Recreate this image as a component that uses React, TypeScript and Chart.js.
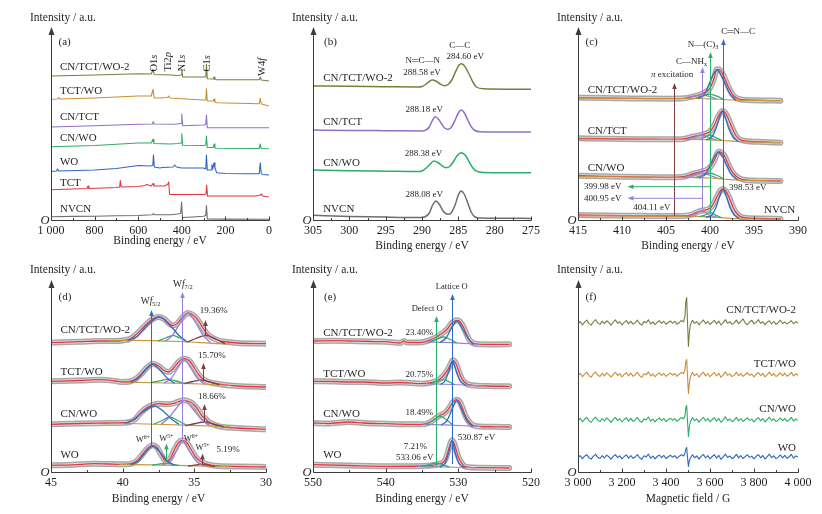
import React, { useEffect, useRef } from "react";
import { Chart, registerables } from "chart.js";

Chart.register(...registerables);

const FONT = '"Liberation Serif", "Times New Roman", "DejaVu Serif", serif';
const INK = "#1f1f1f";
const AXIS = "#3c3c3c";
const OLIVE = "#7b7e3b";
const ORANGE = "#c78e34";
const PURPLE = "#8d6fc8";
const GREEN = "#2cad68";
const BLUE = "#2e67c3";
const RED = "#e4363d";
const GRAY = "#6e6e6e";
const FIT_RED = "#e8363f";
const FIT_BLUE = "#2f6cc6";
const FIT_GREEN = "#2bb06b";
const FIT_PURPLE = "#9c80d6";
const FIT_BROWN = "#7c3e40";
const FIT_TAN = "#c99540";
const BAND = "#a8a8a8";
const BAND_IN = "#e0e0e0";

// ---------- (a) survey spectra [binding energy, intensity] ----------
const surveyNVCN = [[1000,3.3],[900,3.6],[800,3.8],[700,4.2],[600,4.5],[560,5],[535,5.2],[530,6.5],[525,5.2],[450,5.3],[420,6],[405,6.5],[401,18],[397,2.5],[350,3],[300,3.7],[290,4.5],[287,14.5],[283,1.1],[200,0.9],[0,0.8]];
const surveyTCT = [[1000,30.3],[900,31],[835,31.5],[830,34],[826,31.5],[700,32.5],[685,33],[682,39.5],[678,33],[600,33.5],[570,34.5],[560,35.5],[540,34],[532,36.5],[528,34],[480,34],[465,35.5],[460,38],[456,25.5],[400,25.5],[300,25.5],[289,26],[286,35],[282,24],[200,24],[60,24],[40,25],[35,26],[30,24],[0,23]];
const surveyWO = [[1000,48.5],[975,49],[970,51],[965,49],[800,50],[700,51.5],[600,54.5],[545,54],[533,54.5],[530,65],[526,53],[500,52],[490,52.5],[440,53],[432,55],[425,53],[400,52],[300,52],[290,51],[287,65],[283,50],[265,50],[262,55.5],[258,51],[252,57.3],[248,52],[240,47.3],[200,46.5],[100,46.3],[45,46.3],[40,57.3],[36,47],[30,45.5],[0,45]];
const surveyCNWO = [[1000,73.3],[800,74.5],[600,77],[540,77],[532,80.7],[528,76.5],[450,76],[420,76.5],[403,77],[400,86.3],[396,74.7],[300,74.5],[290,75],[287,84],[283,72.5],[255,72.5],[252,76],[248,72],[240,71.7],[45,71.5],[40,76],[36,71.5],[0,71.2]];
const surveyCNTCT = [[1000,93],[800,94.3],[600,95.7],[535,96],[531,98.3],[527,96],[430,95.7],[403,96.5],[400,106],[396,94.3],[300,95],[290,95.5],[287,105],[283,92.3],[200,92.3],[0,92.2]];
const surveyTCTWO = [[1000,120.7],[970,121],[965,122.5],[960,121],[800,122],[600,124],[540,124],[532,130.7],[527,122],[500,122],[465,122.5],[460,124],[455,122],[420,121.5],[300,120],[290,120],[287,131.3],[283,119],[255,119],[252,121],[248,118],[240,117.3],[45,116.3],[40,121.7],[35,116],[0,114]];
const surveyCNTCTWO2 = [[1000,144],[800,145],[600,146.3],[540,146],[532,150.7],[527,145.5],[450,145],[420,144.5],[403,145],[400,150.7],[396,143],[300,143],[290,143],[287,155.7],[283,141.3],[255,141],[252,143],[248,140.5],[240,140.3],[45,140.3],[40,143],[35,140],[0,139]];

// ---------- (b) C1s ----------
const c1sNVCN = [[305,4.7],[300,3.6],[295,2.9],[290,2.5],[289.5,3.5],[289.0,7],[288.5,15.5],[288.08,19],[287.6,15.5],[287.1,9],[286.6,6],[286.3,5.7],[285.9,8],[285.4,16],[285.0,25],[284.6,29],[284.2,26],[283.7,17],[283.2,7.5],[282.7,3],[282,1.9],[279,1.7],[275,1.6]];
const c1sCNWO = [[305,50],[300,49.3],[295,48.8],[290.5,48.4],[290,49],[289.5,51.5],[289,55],[288.38,59],[287.8,57.5],[287.2,54],[286.7,52.3],[286.2,53.5],[285.7,58],[285.2,64],[284.6,67.3],[284,64.5],[283.5,58],[283,52],[282.5,48.8],[281.5,47.6],[278,47.3],[275,47.2]];
const c1sCNTCT = [[305,90],[300,89.6],[295,89.3],[290,89],[289.5,89.8],[289,93],[288.6,99],[288.18,103.3],[287.7,100.5],[287.2,95],[286.8,91.5],[286.4,90.7],[286,92.5],[285.5,99],[285.0,107],[284.6,110],[284.2,107.5],[283.7,100],[283.2,93],[282.7,89.5],[282,88.3],[278,88],[275,88]];
const c1sCNTCTWO2 = [[305,134],[300,133.7],[295,133.3],[290.5,133],[290,133.5],[289.5,135.5],[289,138.5],[288.58,140],[288.1,139],[287.5,136],[286.9,134.2],[286.4,135.5],[285.9,140],[285.4,148],[284.9,155],[284.6,156.3],[284.2,154.5],[283.6,147],[283,138],[282.5,133],[281.5,131.2],[278,130.8],[275,130.7]];

// ---------- (c) N1s: envelope, background, C=N-C, N-(C)3, C-NHx ----------
const n1sNVCN = [[415,5],[412,4.6],[410,4.3],[407,4.1],[405,4],[403,4.1],[402,5.7],[401.3,8.5],[400.8,9.5],[400.3,10.5],[399.9,12.5],[399.5,18],[399.1,25],[398.8,29.5],[398.55,31],[398.2,29],[397.8,22],[397.4,13],[397,7],[396.5,3.3],[395.8,2],[394,1.5],[392,1]];
const n1sNVCNbg = [[415,4.2],[402,3.6],[400,3.2],[398.5,2.2],[397,1.3],[392,0.8]];
const n1sNVCNcnc = [[400.4,2.8],[399.8,5],[399.3,13],[398.9,24],[398.53,30.5],[398.15,24],[397.75,13],[397.25,5],[396.7,1.8]];
const n1sNVCNnc3 = [[401.2,3.4],[400.6,4.9],[399.98,7.3],[399.35,4.8],[398.7,2.5]];
const n1sNVCNnh = [[402.6,3.6],[401.8,5.4],[400.95,9],[400.1,5.2],[399.3,3.0]];

const n1sCNWO = [[415,44.3],[412,43.7],[410,43.3],[407,42.9],[405,42.7],[403,43.3],[402,46],[401,48.3],[400.3,50.5],[399.8,55],[399.4,62],[399.05,68.3],[398.7,67.5],[398.3,63.3],[397.8,53.3],[397.3,46],[396.7,41.8],[396,40],[394,39.3],[392,39]];
const n1sCNWObg = [[415,43.5],[402,42.5],[400,42],[398.5,41],[397,40],[392,39]];
const n1sCNWOcnc = [[401.2,42.3],[400.5,46],[399.9,56],[399.45,64],[399.05,67.5],[398.6,64],[398.1,55],[397.6,46],[396.9,40.5]];
const n1sCNWOnc3 = [[401.6,42.7],[400.8,44.8],[400,47],[399.2,44.5],[398.5,41.3]];
const n1sCNWOnh = [[402.8,43],[401.9,44.9],[400.95,47.2],[400,44.6],[399.2,42]];

const n1sCNTCT = [[415,81.7],[412,81.3],[410,81],[407,80.8],[405,80.7],[403,81],[402,83.3],[401,85],[400.3,87],[399.9,89.5],[399.5,95],[399.1,103],[398.8,107.5],[398.6,109],[398.3,107.5],[397.9,101],[397.5,92.5],[397.1,85],[396.6,80.5],[396,79],[394,78],[392,77.3]];
const n1sCNTCTbg = [[415,80.8],[402,80.5],[400,80.2],[398.5,79.5],[397,78.5],[392,77.3]];
const n1sCNTCTcnc = [[400.4,80.2],[399.8,83],[399.3,92],[398.95,102],[398.6,108.5],[398.25,102],[397.85,91],[397.35,82.5],[396.8,78.6]];
const n1sCNTCTnc3 = [[401.1,80.6],[400.6,82.5],[399.98,85],[399.35,82.3],[398.7,79.7]];
const n1sCNTCTnh = [[402.6,80.8],[401.8,82.6],[400.95,85],[400.1,82.5],[399.3,80.2]];

const n1sCNTCTWO2 = [[415,122.3],[412,121.9],[410,121.7],[407,121.4],[405,121.3],[403,121.7],[402,123.3],[401,125.7],[400.4,128.5],[400,132],[399.6,140],[399.2,150.7],[398.8,149.5],[398.4,143],[397.9,133],[397.4,125],[396.9,121.5],[396.3,120.3],[395,119.8],[392,119.3]];
const n1sCNTCTWO2bg = [[415,121.8],[402,121.5],[400,121.2],[398.5,120.5],[397,119.8],[392,119.3]];
const n1sCNTCTWO2cnc = [[401.3,121.9],[400.6,126],[400.05,137],[399.6,146],[399.2,150],[398.8,146],[398.3,137],[397.8,127],[397.1,120]];
const n1sCNTCTWO2nc3 = [[401.5,122.2],[400.8,124],[400,125.8],[399.2,123.8],[398.5,120.8]];
const n1sCNTCTWO2nh = [[402.8,122.3],[401.9,123.8],[401,125.2],[400.1,123.6],[399.3,121.4]];

// ---------- (d) W4f: envelope, background, W6+ 5/2, W5+ 5/2, W6+ 7/2, W5+ 7/2 ----------
const w4fWO = [[45,6.7],[43.5,7.2],[42,8.3],[41,8],[40,7.7],[39.5,8],[39,11.5],[38.6,18],[38.2,24.5],[37.9,26.7],[37.6,24.5],[37.3,17],[37.0,11],[36.7,13],[36.4,22],[36.1,29.5],[35.8,31.7],[35.5,29],[35.2,22],[34.9,15],[34.5,10],[34.0,7.3],[33.3,6],[32,5.5],[30,5]];
const w4fWObg = [[40.2,7.6],[37,6.8],[34,5.8],[32.5,5.2]];
const w4fWOa = [[39.4,7.5],[38.9,11],[38.45,19],[37.9,25.7],[37.35,19],[36.9,11],[36.4,7]];
const w4fWOb = [[37.9,7],[37.0,8.6],[36.1,6.6]];
const w4fWOc = [[37.2,6.8],[36.8,10],[36.3,20],[35.8,31],[35.3,20],[34.8,10],[34.4,6.2]];
const w4fWOd = [[35.4,6],[34.5,7.6],[33.6,5.6]];

const w4fCNWO = [[45,47.7],[43,48.5],[41,49],[40,49.3],[39.5,50],[39.1,53],[38.8,58.3],[38.4,63.5],[38,66.7],[37.5,68.3],[37,67.7],[36.5,68.3],[36.1,70.5],[35.7,71.7],[35.3,70],[35,66.7],[34.7,61.5],[34.5,56.7],[34.2,53],[34,50],[33.5,46.7],[33,45],[32,44],[30,42.7]];
const w4fCNWObg = [[41,49],[37,47.5],[34,46],[32.5,45.2]];
const w4fCNWOa = [[39.8,49],[39.2,53],[38.6,60],[37.8,66],[37.1,60],[36.6,53],[36.1,48]];
const w4fCNWOb = [[37.8,48],[37.3,51],[36.7,55],[36.1,51],[35.6,47.3]];
const w4fCNWOc = [[37.3,48],[36.8,54],[36.3,63],[35.7,71.7],[35.1,63],[34.6,54],[34.0,46.5]];
const w4fCNWOd = [[35.6,46.5],[34.9,48.5],[34.3,50],[33.7,48],[33.0,45.5]];

const w4fTCTWO = [[45,90.7],[43,91.5],[41.5,92.3],[40.5,91],[40,90],[39.5,90.5],[39.1,93],[38.7,98],[38.3,104.5],[37.9,108.3],[37.5,106],[37.1,101.5],[36.8,100],[36.5,103],[36.1,110],[35.7,113.3],[35.3,110.5],[35,104],[34.7,97.5],[34.4,93],[34,90],[33.5,88.5],[33,87.3],[32,86],[30,85]];
const w4fTCTWObg = [[40,90],[37,89],[34.5,88],[32.5,86.5]];
const w4fTCTWOa = [[39.4,90],[38.9,94],[38.4,102],[37.9,107.7],[37.4,102],[36.9,94],[36.4,89]];
const w4fTCTWOb = [[38,89.5],[37.4,91.2],[36.9,92.7],[36.3,91],[35.7,88.6]];
const w4fTCTWOc = [[37.1,89],[36.6,94],[36.15,104],[35.7,112.3],[35.25,104],[34.8,94],[34.3,88]];
const w4fTCTWOd = [[35.7,88.5],[35.1,90.5],[34.5,91.8],[33.9,90],[33.3,87.5]];

const w4fCNTCTWO2 = [[45,129.3],[43,130.3],[41.5,131],[40.5,131],[40,131.5],[39.5,133],[39.1,137],[38.6,144],[38.1,151],[37.5,155],[37.1,153],[36.8,149],[36.5,146.5],[36.2,148.5],[35.8,155],[35.45,159],[35.1,157],[34.7,151],[34.4,144],[34.1,138],[33.7,134],[33.3,131.5],[33,130.5],[32,129],[30,128.3]];
const w4fCNTCTWO2bg = [[41,131.5],[39.4,131.7],[36,130.5],[33.2,128.3],[32.5,128]];
const w4fCNTCTWO2a = [[39.6,131.8],[39,135.5],[38.4,145],[37.45,155],[36.6,145],[36.1,137],[35.6,131]];
const w4fCNTCTWO2b = [[37.5,131.2],[37,134],[36.5,136.7],[36,134],[35.5,130.5]];
const w4fCNTCTWO2c = [[37,131],[36.5,137],[36,149],[35.45,159],[34.9,149],[34.4,137],[33.9,129.8]];
const w4fCNTCTWO2d = [[35.5,130],[34.9,133.5],[34.2,136.7],[33.5,133],[32.9,128.7]];

// ---------- (e) O1s: envelope, background, defect O, lattice O ----------
const o1sWO = [[550,7.3],[545,6.5],[540,5.7],[535,6],[533.5,6.7],[532.5,8.5],[532,10],[531.7,14],[531.4,21],[531.1,28.5],[530.87,31.7],[530.6,29],[530.3,22],[530,15],[529.6,9.5],[529.2,6],[528.5,4.7],[527,4.3],[523,4]];
const o1sWObg = [[535.5,5.7],[532,5],[529,4.5],[527.5,4.3]];
const o1sWOdef = [[535,5.9],[534,7.3],[533.06,9],[532.1,7.2],[531.3,5.2]];
const o1sWOlat = [[532.5,5],[531.8,9],[531.3,20],[530.87,31.3],[530.45,20],[529.95,9],[529.2,4.6]];

const o1sCNWO = [[550,49],[548,48.5],[545,50],[543,49],[540,48.3],[537,47.7],[535,47.7],[534.2,48.8],[533.5,51.5],[533,54.3],[532.5,56.7],[532,58.3],[531.5,61.7],[531,67],[530.6,71],[530.2,72.3],[529.8,70],[529.4,63.5],[529,55.7],[528.5,50],[528,46.7],[527,45.5],[525,45.2],[523,45]];
const o1sCNWObg = [[534.6,47.7],[531,46.8],[528,45.8],[527,45.5]];
const o1sCNWOdef = [[534.4,47.8],[533.5,51.5],[532.5,55.7],[531.6,52],[530.8,47.4]];
const o1sCNWOlat = [[532.3,47.2],[531.6,51],[531,60],[530.2,71.7],[529.4,60],[528.8,51],[528.1,46]];

const o1sTCTWO = [[550,90.7],[547,90.5],[545,90],[543,90],[540,89],[538,89.5],[535,88.3],[534,89],[533,91],[532.5,93.3],[532,96.7],[531.5,101.7],[531.1,107.5],[530.75,111.7],[530.4,109.5],[530.1,104],[529.7,96],[529.3,91],[528.8,88],[528,86.7],[526,86],[523,85.7]];
const o1sTCTWObg = [[534.4,88.4],[531,87.5],[528,86.7],[527,86.3]];
const o1sTCTWOdef = [[533.8,88.5],[533,90.5],[532.1,92.3],[531.3,90.3],[530.6,87.6]];
const o1sTCTWOlat = [[532.4,87.8],[531.8,91.5],[531.3,101],[530.8,111],[530.3,101],[529.8,91.5],[529,86.8]];

const o1sCNTCTWO2 = [[550,131],[547,131.3],[545,131],[542,130.5],[540,130.3],[538,129],[537.5,131],[537,129.5],[535,129.7],[534,131.7],[533,135],[532.5,137.5],[532,140],[531.5,143.3],[531,148.3],[530.5,151],[530.2,151.7],[529.8,150.5],[529.3,145],[528.9,138.3],[528.5,132.3],[528,129],[527,127.7],[525,127.6],[523,127.7]];
const o1sCNTCTWO2bg = [[534.6,130],[531,129.3],[528,128],[527,127.7]];
const o1sCNTCTWO2def = [[534,130],[533,132.7],[532,135],[531.1,132.5],[530.3,129.2]];
const o1sCNTCTWO2lat = [[532.5,129.6],[531.7,134],[531,143],[530.2,151],[529.4,143],[528.7,134],[528,128]];

// ---------- (f) EPR ----------
const eprField = [3000,3010,3020,3030,3040,3050,3060,3070,3080,3090,3100,3110,3120,3130,3140,3150,3160,3170,3180,3190,3200,3210,3220,3230,3240,3250,3260,3270,3280,3290,3300,3310,3320,3330,3340,3350,3360,3370,3380,3390,3400,3410,3420,3430,3440,3450,3460,3470,3480,3486,3490,3494,3498,3502,3506,3510,3520,3530,3540,3550,3560,3570,3580,3590,3600,3610,3620,3630,3640,3650,3660,3670,3680,3690,3700,3710,3720,3730,3740,3750,3760,3770,3780,3790,3800,3810,3820,3830,3840,3850,3860,3870,3880,3890,3900,3910,3920,3930,3940,3950,3960,3970,3980,3990,4000];
const eprCNTCTWO2 = [148.2,150.5,147.1,149.8,151.9,148.4,146.9,150.2,152.3,149.1,147.6,150.9,148.3,151.2,149.4,146.8,149.9,152.1,148.7,150.3,147.2,149.6,151.4,148.1,150.7,147.9,149.2,151.8,148.5,146.9,150.4,149.3,152.2,148.0,150.1,147.4,149.7,151.3,148.6,150.8,147.7,149.5,151.0,148.9,150.6,147.8,149.3,151.5,150.2,156,170,174.5,148,125.5,139,146.5,151.8,148.6,150.4,147.2,149.9,152.0,148.3,150.7,147.5,149.8,151.6,148.2,150.9,147.0,149.4,152.4,148.8,150.3,147.6,149.1,151.9,148.4,150.6,153.2,148.9,147.3,150.0,151.7,148.1,149.6,152.3,148.7,150.2,147.4,149.8,151.2,148.0,150.5,147.7,149.3,151.8,148.5,150.1,147.9,149.6,151.3,148.2,150.4,149.0];
const eprTCTWO = [96.4,98.7,95.3,97.9,99.8,96.2,94.9,98.1,100.0,96.8,95.5,98.6,96.1,99.2,97.3,94.8,97.7,99.6,96.5,98.3,95.1,97.6,99.4,96.0,98.8,95.8,97.1,99.7,96.4,94.7,98.3,97.2,100.1,95.9,98.0,95.3,97.6,99.2,96.5,98.7,95.6,97.4,98.9,96.8,98.5,95.7,97.8,99.6,98.4,102,110,112.5,95,78.5,88,94.5,99.6,96.4,98.2,95.0,97.7,99.8,96.1,98.5,95.3,97.6,99.4,96.0,98.7,94.8,97.2,100.2,96.6,98.1,95.4,96.9,99.7,96.2,98.4,95.6,97.5,99.3,96.7,98.0,95.2,97.8,99.5,96.3,98.6,95.1,97.4,99.9,96.5,98.3,95.5,97.0,99.1,96.2,98.8,95.7,97.3,99.6,96.0,98.2,96.8];
const eprCNWO = [51.3,53.6,50.2,52.8,54.6,51.1,49.8,52.9,54.9,51.7,50.4,53.5,51.0,54.1,52.2,49.7,52.6,54.5,51.4,53.2,50.0,52.5,54.3,50.9,53.7,50.7,52.0,54.6,51.3,49.6,53.2,52.1,55.0,50.8,52.9,50.2,52.5,54.1,51.4,53.6,50.5,52.3,53.8,51.7,53.4,50.6,52.7,54.5,53.0,56,64,66.5,50,35.5,45,49.5,54.5,51.3,53.1,49.9,52.6,54.7,51.0,53.4,50.2,52.5,54.3,50.9,53.6,49.7,52.1,55.1,51.5,53.0,50.3,51.8,54.6,51.1,53.3,50.5,52.4,54.2,51.6,52.9,50.1,52.7,54.4,51.2,53.5,50.0,52.3,54.8,51.4,53.2,50.4,51.9,54.0,51.1,53.7,50.6,52.2,54.5,50.9,53.1,51.7];
const eprWO = [14.5,16.4,13.3,15.8,17.4,14.1,12.9,15.9,17.6,14.7,13.5,16.3,14.0,16.9,15.2,12.8,15.6,17.3,14.4,16.2,13.1,15.5,17.1,13.9,16.5,13.7,15.0,17.4,14.3,12.7,16.2,15.1,17.8,13.8,15.9,13.2,15.5,17.0,14.4,16.6,13.5,15.3,16.8,14.7,16.4,13.6,15.7,17.2,16.0,18.5,23,24.5,14,5.5,11,13.5,17.2,14.3,16.1,12.9,15.6,17.5,14.0,16.4,13.2,15.5,17.3,13.9,16.6,12.7,15.1,17.9,14.5,16.0,13.3,14.8,17.6,14.1,16.3,13.5,15.4,17.2,14.6,15.9,13.1,15.7,17.4,14.2,16.5,13.0,15.3,17.8,14.4,16.2,13.4,14.9,17.0,14.1,16.7,13.6,15.2,17.5,13.9,16.1,15.0];

const NAME_CNTCTWO2 = "CN/TCT/WO-2";
const NAME_TCTWO = "TCT/WO";
const NAME_CNTCT = "CN/TCT";
const NAME_CNWO = "CN/WO";
const NAME_WO = "WO";
const NAME_TCT = "TCT";
const NAME_NVCN = "NVCN";

// ---------- types & helpers ----------
type Pt = { x: number; y: number };
type Seg = { t: string; st?: "i" | "sub" | "sup" };
type Label = { x: number; y: number; segs: Seg[]; size: number; align?: "left" | "center" | "right"; color?: string; rot?: boolean };
type Arrow = { x1: number; y1: number; x2: number; y2: number; color: string };
type Series = { d: Pt[]; color: string; w: number; smooth?: boolean };
type Row = { top: number; height: number; padT: number; padB: number; ymax: number; letterDy: number; intDy: number; titleDy: number };
type Col = { left: number; width: number; padL: number; padR: number; letterDx: number };
type Panel = { row: Row; col: Col; xmin: number; xmax: number; reverse: boolean; step: number; series: Series[]; labels: Label[]; arrows: Arrow[]; letter: string; xTitle: string; titleDy?: number };

const pts = (a: number[][]): Pt[] => a.map(([x, y]) => ({ x, y }));
const onGrid = (xs: number[], ys: number[]): Pt[] => xs.map((x, i) => ({ x, y: ys[i] }));
const T = (t: string): Seg[] => [{ t }];
const L = (x: number, y: number, t: string | Seg[], size: number, align: "left" | "center" | "right" = "center", extra: Partial<Label> = {}): Label => ({ x, y, segs: typeof t === "string" ? T(t) : t, size, align, ...extra });

function raw(a: number[][]): Series[] {
  return [
    { d: pts(a), color: BAND, w: 6, smooth: true },
    { d: pts(a), color: BAND_IN, w: 3, smooth: true },
  ];
}

function fontStr(size: number, italic: boolean) {
  return `${italic ? "italic " : ""}${size}px ${FONT}`;
}

function drawRich(ctx: CanvasRenderingContext2D, segs: Seg[], x: number, y: number, size: number, color: string, align: string, rot: boolean) {
  const parts = segs.map((s) => {
    const small = s.st === "sub" || s.st === "sup";
    const sz = small ? size * 0.68 : size;
    const it = s.st === "i";
    ctx.font = fontStr(sz, it);
    return { s, sz, it, w: ctx.measureText(s.t).width };
  });
  const total = parts.reduce((a, p) => a + p.w, 0);
  ctx.save();
  ctx.translate(x, y);
  if (rot) ctx.rotate(-Math.PI / 2);
  let cx = align === "center" ? -total / 2 : align === "right" ? -total : 0;
  ctx.fillStyle = color;
  ctx.textBaseline = "middle";
  ctx.textAlign = "left";
  for (const p of parts) {
    ctx.font = fontStr(p.sz, p.it);
    const dy = p.s.st === "sub" ? size * 0.3 : p.s.st === "sup" ? -size * 0.32 : 0;
    ctx.fillText(p.s.t, cx, dy);
    cx += p.w;
  }
  ctx.restore();
}

function drawArrow(ctx: CanvasRenderingContext2D, x1: number, y1: number, x2: number, y2: number, color: string) {
  const ang = Math.atan2(y2 - y1, x2 - x1);
  const len = 6;
  const half = 2.3;
  const c = Math.cos(ang);
  const s = Math.sin(ang);
  ctx.save();
  ctx.strokeStyle = color;
  ctx.fillStyle = color;
  ctx.lineWidth = 1;
  ctx.beginPath();
  ctx.moveTo(x1, y1);
  ctx.lineTo(x2 - len * 0.7 * c, y2 - len * 0.7 * s);
  ctx.stroke();
  ctx.beginPath();
  ctx.moveTo(x2, y2);
  ctx.lineTo(x2 - len * c + half * s, y2 - len * s - half * c);
  ctx.lineTo(x2 - len * c - half * s, y2 - len * s + half * c);
  ctx.closePath();
  ctx.fill();
  ctx.restore();
}

function deco(p: Panel) {
  return {
    id: "deco",
    afterDatasetsDraw(chart: any) {
      const ctx = chart.ctx as CanvasRenderingContext2D;
      const xs = chart.scales.x;
      const ys = chart.scales.y;
      for (const a of p.arrows) {
        drawArrow(ctx, Math.round(xs.getPixelForValue(a.x1)) + 0.5, ys.getPixelForValue(a.y1), Math.round(xs.getPixelForValue(a.x2)) + 0.5, ys.getPixelForValue(a.y2), a.color);
      }
      for (const l of p.labels) {
        drawRich(ctx, l.segs, xs.getPixelForValue(l.x), ys.getPixelForValue(l.y), l.size, l.color || INK, l.align || "center", !!l.rot);
      }
    },
    afterDraw(chart: any) {
      const ctx = chart.ctx as CanvasRenderingContext2D;
      const xs = chart.scales.x;
      const { left, right, top, bottom } = chart.chartArea;
      ctx.save();
      ctx.strokeStyle = AXIS;
      ctx.fillStyle = AXIS;
      ctx.lineWidth = 1;
      const yb = Math.round(bottom) + 0.5;
      const xl = Math.round(left) + 0.5;
      ctx.beginPath();
      ctx.moveTo(xl, yb);
      ctx.lineTo(Math.round(right) + 0.5, yb);
      ctx.stroke();
      ctx.beginPath();
      ctx.moveTo(xl, yb);
      ctx.lineTo(xl, top + 6);
      ctx.stroke();
      ctx.beginPath();
      ctx.moveTo(xl, top);
      ctx.lineTo(xl - 3, top + 8);
      ctx.lineTo(xl + 3, top + 8);
      ctx.closePath();
      ctx.fill();
      const n = Math.round((p.xmax - p.xmin) / (p.step / 2));
      for (let i = 0; i <= n; i++) {
        const v = p.xmin + (i * p.step) / 2;
        const px = Math.round(xs.getPixelForValue(v)) + 0.5;
        const len = i % 2 === 0 ? 4 : 2.5;
        ctx.beginPath();
        ctx.moveTo(px, yb);
        ctx.lineTo(px, yb - len);
        ctx.stroke();
      }
      ctx.restore();
      drawRich(ctx, [{ t: "O", st: "i" }], left - 6, bottom + 1, 12.5, INK, "center", false);
      drawRich(ctx, T("Intensity / a.u."), left - 21, top + p.row.intDy, 11.5, INK, "left", false);
      drawRich(ctx, T(p.letter), left + p.col.letterDx, top + p.row.letterDy, 11, INK, "left", false);
      drawRich(ctx, T(p.xTitle), (left + right) / 2, bottom + (p.titleDy ?? p.row.titleDy), 11.5, INK, "center", false);
    },
  };
}

const fmt = (v: number) => {
  if (Math.abs(v) >= 1000) {
    const th = Math.floor(v / 1000);
    const rest = String(Math.round(v % 1000)).padStart(3, "0");
    return `${th} ${rest}`;
  }
  return String(Math.round(v * 100) / 100);
};

function PanelChart({ p }: { p: Panel }) {
  const ref = useRef<HTMLCanvasElement>(null);
  useEffect(() => {
    const cv = ref.current;
    if (!cv) return;
    const chart = new Chart(cv, {
      type: "line",
      data: {
        datasets: p.series.map((s, i) => ({
          data: s.d,
          borderColor: s.color,
          borderWidth: s.w,
          pointRadius: 0,
          fill: false,
          tension: 0,
          cubicInterpolationMode: s.smooth ? "monotone" : "default",
          borderJoinStyle: "round",
          borderCapStyle: "round",
          order: p.series.length - i,
        })),
      } as any,
      options: {
        responsive: false,
        animation: false,
        events: [],
        layout: { padding: { left: p.col.padL, right: p.col.padR, top: p.row.padT, bottom: p.row.padB } },
        plugins: { legend: { display: false }, tooltip: { enabled: false }, title: { display: false } },
        scales: {
          x: {
            type: "linear",
            min: p.xmin,
            max: p.xmax,
            reverse: p.reverse,
            afterFit: (s: any) => {
              s.height = 30;
            },
            grid: { display: false, drawTicks: false },
            border: { display: false },
            ticks: {
              stepSize: p.step,
              autoSkip: false,
              maxRotation: 0,
              minRotation: 0,
              padding: 4,
              color: INK,
              font: { family: FONT, size: 12 },
              callback: (v: any) => fmt(Number(v)),
            },
          },
          y: { type: "linear", display: false, min: 0, max: p.row.ymax },
        },
      } as any,
      plugins: [deco(p) as any],
    });
    return () => chart.destroy();
  }, [p]);
  return (
    <canvas
      ref={ref}
      width={p.col.width}
      height={p.row.height}
      style={{ position: "absolute", left: p.col.left, top: p.row.top, width: p.col.width, height: p.row.height }}
    />
  );
}

// ---------- layout ----------
const TOP: Row = { top: 0, height: 257, padT: 27, padB: 7, ymax: 193, letterDy: 15.3, intDy: -9, titleDy: 26 };
const BOT: Row = { top: 257, height: 257, padT: 23, padB: 12, ymax: 192, letterDy: 17.3, intDy: -10, titleDy: 27 };
const COL1: Col = { left: 0, width: 276, padL: 51, padR: 6, letterDx: 7.5 };
const COL2: Col = { left: 276, width: 268, padL: 37, padR: 11, letterDx: 11 };
const COL3: Col = { left: 544, width: 278, padL: 34, padR: 24, letterDx: 7.5 };

const FS = 11; // sample label size
const FA = 9; // annotation size

const fitSet = (env: number[][], bg: number[][], comps: [number[][], string][], bgColor: string): Series[] => [
  ...raw(env),
  { d: pts(env), color: FIT_RED, w: 1.3, smooth: true },
  { d: pts(bg), color: bgColor, w: 1.2, smooth: true },
  ...comps.map(([c, col]) => ({ d: pts(c), color: col, w: 1.3, smooth: true })),
];

const panelA: Panel = {
  row: TOP, col: COL1, xmin: 0, xmax: 1000, reverse: true, step: 200, letter: "(a)", xTitle: "Binding energy / eV", titleDy: 21,
  series: [
    { d: pts(surveyCNTCTWO2), color: OLIVE, w: 1.1 },
    { d: pts(surveyTCTWO), color: ORANGE, w: 1.1 },
    { d: pts(surveyCNTCT), color: PURPLE, w: 1.1 },
    { d: pts(surveyCNWO), color: GREEN, w: 1.1 },
    { d: pts(surveyWO), color: BLUE, w: 1.1 },
    { d: pts(surveyTCT), color: RED, w: 1.1 },
    { d: pts(surveyNVCN), color: GRAY, w: 1.1 },
  ],
  labels: [
    L(958.9, 153, NAME_CNTCTWO2, FS, "left"),
    L(958.9, 129, NAME_TCTWO, FS, "left"),
    L(958.9, 103, NAME_CNTCT, FS, "left"),
    L(958.9, 82, NAME_CNWO, FS, "left"),
    L(958.9, 58, NAME_WO, FS, "left"),
    L(958.9, 37, NAME_TCT, FS, "left"),
    L(958.9, 11, NAME_NVCN, FS, "left"),
    L(525, 148.5, [{ t: "O1" }, { t: "s", st: "i" }], 10.5, "left", { rot: true }),
    L(460, 148.5, [{ t: "Ti2" }, { t: "p", st: "i" }], 10.5, "left", { rot: true }),
    L(397, 148.5, [{ t: "N1" }, { t: "s", st: "i" }], 10.5, "left", { rot: true }),
    L(283, 148.5, [{ t: "C1" }, { t: "s", st: "i" }], 10.5, "left", { rot: true }),
    L(33, 144, [{ t: "W4" }, { t: "f", st: "i" }], 10.5, "left", { rot: true }),
  ],
  arrows: [],
};

const panelB: Panel = {
  row: TOP, col: COL2, xmin: 275, xmax: 305, reverse: true, step: 5, letter: "(b)", xTitle: "Binding energy / eV",
  series: [
    { d: pts(c1sCNTCTWO2), color: OLIVE, w: 1.5, smooth: true },
    { d: pts(c1sCNTCT), color: PURPLE, w: 1.5, smooth: true },
    { d: pts(c1sCNWO), color: GREEN, w: 1.5, smooth: true },
    { d: pts(c1sNVCN), color: GRAY, w: 1.5, smooth: true },
  ],
  labels: [
    L(303.6, 142, NAME_CNTCTWO2, FS, "left"),
    L(303.6, 98, NAME_CNTCT, FS, "left"),
    L(303.6, 57, NAME_CNWO, FS, "left"),
    L(303.6, 11, NAME_NVCN, FS, "left"),
    L(289.9, 159.3, "N═C—N", FA),
    L(290.0, 147, "288.58 eV", FA),
    L(284.8, 174.3, "C—C", FA),
    L(284.05, 163.6, "284.60 eV", FA),
    L(289.7, 110, "288.18 eV", FA),
    L(289.8, 66, "288.38 eV", FA),
    L(289.7, 25, "288.08 eV", FA),
  ],
  arrows: [],
};

const panelC: Panel = {
  row: TOP, col: COL3, xmin: 390, xmax: 415, reverse: true, step: 5, letter: "(c)", xTitle: "Binding energy / eV",
  series: [
    ...fitSet(n1sCNTCTWO2, n1sCNTCTWO2bg, [[n1sCNTCTWO2nh, FIT_PURPLE], [n1sCNTCTWO2nc3, FIT_GREEN], [n1sCNTCTWO2cnc, FIT_BLUE]], FIT_TAN),
    ...fitSet(n1sCNTCT, n1sCNTCTbg, [[n1sCNTCTnh, FIT_PURPLE], [n1sCNTCTnc3, FIT_GREEN], [n1sCNTCTcnc, FIT_BLUE]], FIT_TAN),
    ...fitSet(n1sCNWO, n1sCNWObg, [[n1sCNWOnh, FIT_PURPLE], [n1sCNWOnc3, FIT_GREEN], [n1sCNWOcnc, FIT_BLUE]], FIT_TAN),
    ...fitSet(n1sNVCN, n1sNVCNbg, [[n1sNVCNnh, FIT_PURPLE], [n1sNVCNnc3, FIT_GREEN], [n1sNVCNcnc, FIT_BLUE]], FIT_TAN),
  ],
  labels: [
    L(413.9, 130, NAME_CNTCTWO2, FS, "left"),
    L(413.9, 89.3, NAME_CNTCT, FS, "left"),
    L(413.9, 51.7, NAME_CNWO, FS, "left"),
    L(392.1, 10, NAME_NVCN, FS),
    L(404.3, 145, [{ t: "π", st: "i" }, { t: " excitation" }], FA),
    L(402.1, 158.5, [{ t: "C—NH" }, { t: "x", st: "sub" }], FA),
    L(400.8, 175, [{ t: "N—(C)" }, { t: "3", st: "sub" }], FA),
    L(396.8, 188, "C═N—C", FA),
    L(412.2, 33.3, "399.98 eV", FA),
    L(412.2, 21.7, "400.95 eV", FA),
    L(406.6, 12, "404.11 eV", FA),
    L(395.7, 32, "398.53 eV", FA),
  ],
  arrows: [
    { x1: 404.11, y1: 4, x2: 404.11, y2: 137, color: FIT_BROWN },
    { x1: 400.95, y1: 8, x2: 400.95, y2: 153, color: FIT_PURPLE },
    { x1: 399.98, y1: 6, x2: 399.98, y2: 168, color: FIT_GREEN },
    { x1: 398.53, y1: 30, x2: 398.53, y2: 181, color: FIT_BLUE },
    { x1: 399.98, y1: 33.3, x2: 409.47, y2: 33.3, color: FIT_GREEN },
    { x1: 400.95, y1: 21.7, x2: 409.47, y2: 21.7, color: FIT_PURPLE },
  ],
};

const panelD: Panel = {
  row: BOT, col: COL1, xmin: 30, xmax: 45, reverse: true, step: 5, letter: "(d)", xTitle: "Binding energy / eV",
  series: [
    ...fitSet(w4fCNTCTWO2, w4fCNTCTWO2bg, [[w4fCNTCTWO2d, FIT_BROWN], [w4fCNTCTWO2b, FIT_GREEN], [w4fCNTCTWO2c, FIT_PURPLE], [w4fCNTCTWO2a, FIT_BLUE]], FIT_TAN),
    ...fitSet(w4fTCTWO, w4fTCTWObg, [[w4fTCTWOd, FIT_BROWN], [w4fTCTWOb, FIT_GREEN], [w4fTCTWOc, FIT_PURPLE], [w4fTCTWOa, FIT_BLUE]], FIT_TAN),
    ...fitSet(w4fCNWO, w4fCNWObg, [[w4fCNWOd, FIT_BROWN], [w4fCNWOb, FIT_GREEN], [w4fCNWOc, FIT_PURPLE], [w4fCNWOa, FIT_BLUE]], FIT_TAN),
    ...fitSet(w4fWO, w4fWObg, [[w4fWOd, FIT_BROWN], [w4fWOb, FIT_GREEN], [w4fWOc, FIT_PURPLE], [w4fWOa, FIT_BLUE]], FIT_TAN),
  ],
  labels: [
    L(44.34, 141.7, NAME_CNTCTWO2, FS, "left"),
    L(44.34, 100, NAME_TCTWO, FS, "left"),
    L(44.34, 58.3, NAME_CNWO, FS, "left"),
    L(44.34, 16.7, NAME_WO, FS, "left"),
    L(38.05, 171, [{ t: "W" }, { t: "f", st: "i" }, { t: "5/2", st: "sub" }], 9.5),
    L(35.8, 187.5, [{ t: "W" }, { t: "f", st: "i" }, { t: "7/2", st: "sub" }], 9.5),
    L(33.65, 161.7, "19.36%", FA),
    L(33.77, 116.7, "15.70%", FA),
    L(33.77, 75, "18.66%", FA),
    L(38.6, 32, [{ t: "W" }, { t: "6+", st: "sup" }], 8.5),
    L(36.96, 33, [{ t: "W" }, { t: "5+", st: "sup" }], 8.5),
    L(35.25, 33, [{ t: "W" }, { t: "6+", st: "sup" }], 8.5),
    L(34.43, 24, [{ t: "W" }, { t: "5+", st: "sup" }], 8.5),
    L(32.65, 22, "5.19%", FA),
  ],
  arrows: [
    { x1: 38.0, y1: 26, x2: 38.0, y2: 162, color: FIT_BLUE },
    { x1: 35.85, y1: 31, x2: 35.85, y2: 180, color: FIT_PURPLE },
    { x1: 36.97, y1: 10, x2: 36.97, y2: 28.5, color: FIT_GREEN },
    { x1: 34.45, y1: 7.5, x2: 34.45, y2: 18.5, color: FIT_BROWN },
    { x1: 34.3, y1: 50, x2: 34.3, y2: 68, color: FIT_BROWN },
    { x1: 34.38, y1: 91.7, x2: 34.38, y2: 109, color: FIT_BROWN },
    { x1: 34.23, y1: 136.5, x2: 34.23, y2: 152, color: FIT_BROWN },
  ],
};

const panelE: Panel = {
  row: BOT, col: COL2, xmin: 520, xmax: 550, reverse: true, step: 10, letter: "(e)", xTitle: "Binding energy / eV",
  series: [
    ...fitSet(o1sCNTCTWO2, o1sCNTCTWO2bg, [[o1sCNTCTWO2def, FIT_GREEN], [o1sCNTCTWO2lat, FIT_BLUE]], FIT_PURPLE),
    ...fitSet(o1sTCTWO, o1sTCTWObg, [[o1sTCTWOdef, FIT_GREEN], [o1sTCTWOlat, FIT_BLUE]], FIT_PURPLE),
    ...fitSet(o1sCNWO, o1sCNWObg, [[o1sCNWOdef, FIT_GREEN], [o1sCNWOlat, FIT_BLUE]], FIT_PURPLE),
    ...fitSet(o1sWO, o1sWObg, [[o1sWOdef, FIT_GREEN], [o1sWOlat, FIT_BLUE]], FIT_PURPLE),
  ],
  labels: [
    L(548.6, 139.3, NAME_CNTCTWO2, FS, "left"),
    L(548.6, 97.7, NAME_TCTWO, FS, "left"),
    L(548.6, 58.3, NAME_CNWO, FS, "left"),
    L(548.6, 16.7, NAME_WO, FS, "left"),
    L(530.9, 185, "Lattice O", 8.5),
    L(534.3, 163, "Defect O", 8.5),
    L(535.36, 139.3, "23.40%", FA),
    L(535.36, 97.7, "20.75%", FA),
    L(535.36, 59, "18.49%", FA),
    L(535.9, 25.7, "7.21%", FA),
    L(536.0, 14.3, "533.06 eV", FA),
    L(527.5, 34.3, "530.87 eV", FA),
  ],
  arrows: [
    { x1: 533.06, y1: 5.5, x2: 533.06, y2: 156, color: FIT_GREEN },
    { x1: 530.87, y1: 8, x2: 530.87, y2: 178, color: FIT_BLUE },
  ],
};

const panelF: Panel = {
  row: BOT, col: COL3, xmin: 3000, xmax: 4000, reverse: false, step: 200, letter: "(f)", xTitle: "Magnetic field / G",
  series: [
    { d: onGrid(eprField, eprCNTCTWO2), color: OLIVE, w: 1.1 },
    { d: onGrid(eprField, eprTCTWO), color: ORANGE, w: 1.1 },
    { d: onGrid(eprField, eprCNWO), color: GREEN, w: 1.1 },
    { d: onGrid(eprField, eprWO), color: BLUE, w: 1.1 },
  ],
  labels: [
    L(3991, 161.7, NAME_CNTCTWO2, FS, "right"),
    L(3991, 108.3, NAME_TCTWO, FS, "right"),
    L(3991, 63.3, NAME_CNWO, FS, "right"),
    L(3991, 24.3, NAME_WO, FS, "right"),
  ],
  arrows: [],
};

const PANELS = [panelA, panelB, panelC, panelD, panelE, panelF];

export default function App() {
  return (
    <div style={{ position: "absolute", left: 0, top: 0, width: 822, height: 514, background: "#ffffff", overflow: "hidden" }}>
      {PANELS.map((p, i) => (
        <PanelChart key={i} p={p} />
      ))}
    </div>
  );
}
